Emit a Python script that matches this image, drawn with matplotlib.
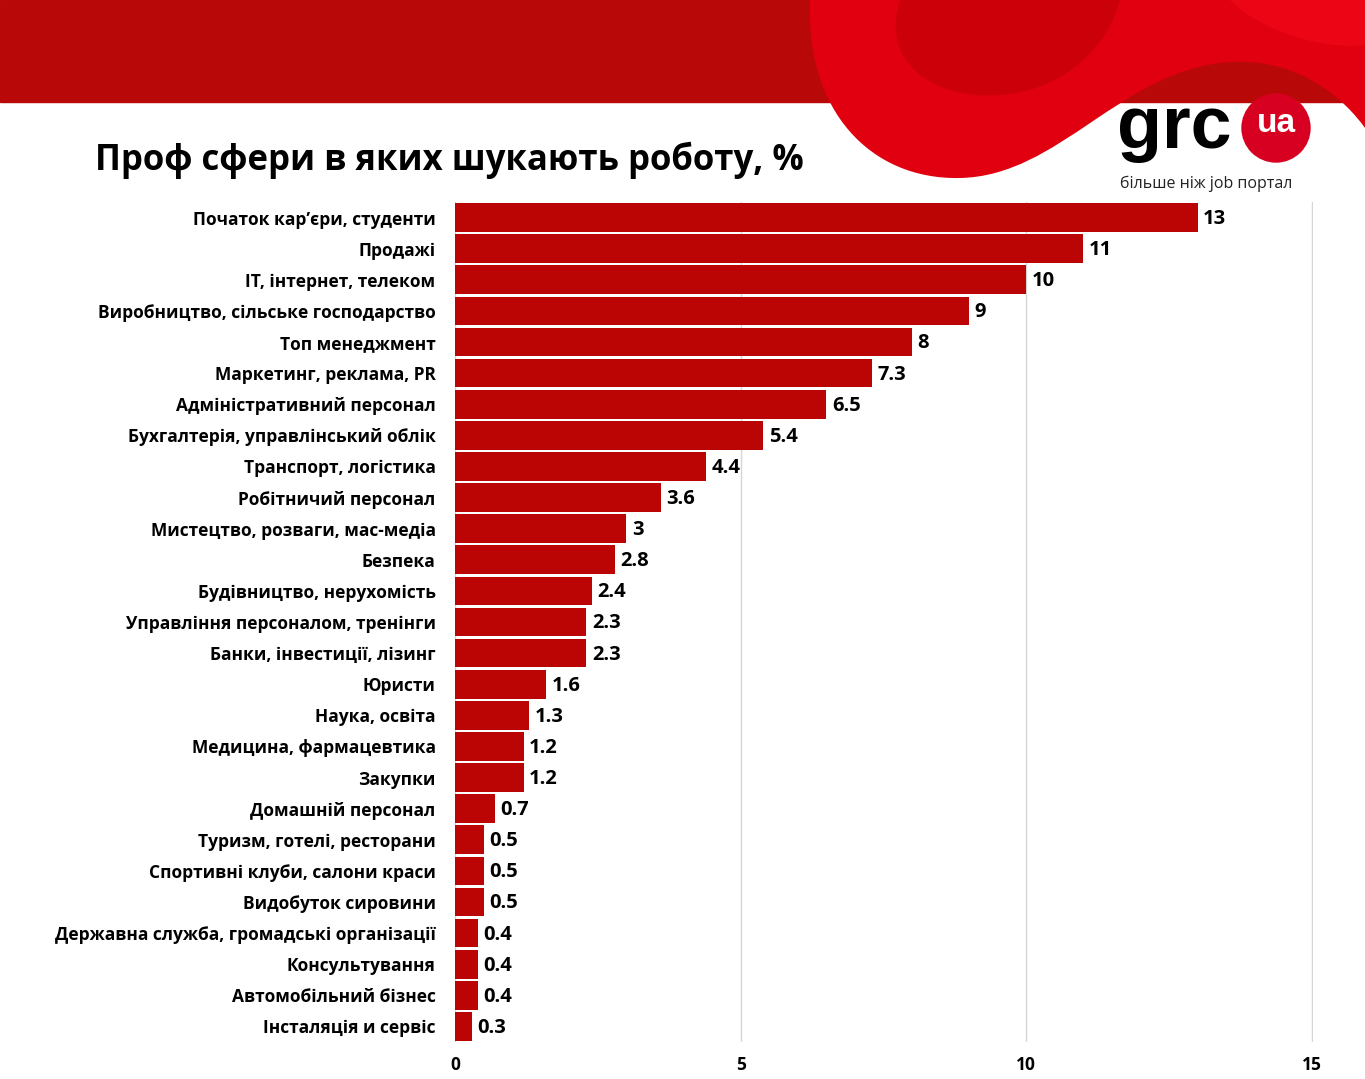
import matplotlib
matplotlib.use("Agg")
import matplotlib.pyplot as plt
from matplotlib.patches import Rectangle, PathPatch, Ellipse
from matplotlib.path import Path

plt.rcParams['font.family'] = ['Open Sans', 'DejaVu Sans']

# --- Datos ---
categorias = [
    "Початок кар’єри, студенти",
    "Продажі",
    "IT, інтернет, телеком",
    "Виробництво, сільське господарство",
    "Топ менеджмент",
    "Маркетинг, реклама, PR",
    "Адміністративний персонал",
    "Бухгалтерія, управлінський облік",
    "Транспорт, логістика",
    "Робітничий персонал",
    "Мистецтво, розваги, мас-медіа",
    "Безпека",
    "Будівництво, нерухомість",
    "Управління персоналом, тренінги",
    "Банки, інвестиції, лізинг",
    "Юристи",
    "Наука, освіта",
    "Медицина, фармацевтика",
    "Закупки",
    "Домашній персонал",
    "Туризм, готелі, ресторани",
    "Спортивні клуби, салони краси",
    "Видобуток сировини",
    "Державна служба, громадські організації",
    "Консультування",
    "Автомобільний бізнес",
    "Інсталяція и сервіс",
]
valores = [13, 11, 10, 9, 8, 7.3, 6.5, 5.4, 4.4, 3.6, 3, 2.8, 2.4, 2.3, 2.3,
           1.6, 1.3, 1.2, 1.2, 0.7, 0.5, 0.5, 0.5, 0.4, 0.4, 0.4, 0.3]
etiquetas = ["13", "11", "10", "9", "8", "7.3", "6.5", "5.4", "4.4", "3.6", "3",
             "2.8", "2.4", "2.3", "2.3", "1.6", "1.3", "1.2", "1.2", "0.7", "0.5",
             "0.5", "0.5", "0.4", "0.4", "0.4", "0.3"]
ticks_x = [0, 5, 10, 15]

rojo_barra = "#bb0505"

fig = plt.figure(figsize=(13.65, 10.79), dpi=100)
W, H = 1365, 1079

def fx(px):
    return px / W

def fy(py):
    return 1 - py / H

# --- Cabecera ---
fig.patches.append(Rectangle((0, fy(102)), 1, 102 / H, transform=fig.transFigure,
                             color="#b90808", zorder=0))
verts = [
    (fx(810), fy(0)),
    (fx(805), fy(110)), (fx(870), fy(180)), (fx(960), fy(178)),
    (fx(1060), fy(176)), (fx(1120), fy(70)), (fx(1230), fy(62)),
    (fx(1300), fy(58)), (fx(1345), fy(100)), (fx(1365), fy(128)),
    (fx(1365), fy(0)),
    (fx(810), fy(0)),
]
codes = [Path.MOVETO, Path.CURVE4, Path.CURVE4, Path.CURVE4,
         Path.CURVE4, Path.CURVE4, Path.CURVE4,
         Path.CURVE4, Path.CURVE4, Path.CURVE4,
         Path.LINETO, Path.CLOSEPOLY]
fig.patches.append(PathPatch(Path(verts, codes), transform=fig.transFigure,
                             facecolor="#e0000f", edgecolor="none", zorder=1))
# sombras internas (suaves)
verts2 = [(fx(900), fy(0)), (fx(880), fy(60)), (fx(930), fy(100)), (fx(1000), fy(95)),
          (fx(1070), fy(90)), (fx(1110), fy(40)), (fx(1120), fy(0)), (fx(900), fy(0))]
codes2 = [Path.MOVETO, Path.CURVE4, Path.CURVE4, Path.CURVE4,
          Path.CURVE4, Path.CURVE4, Path.CURVE4, Path.CLOSEPOLY]
fig.patches.append(PathPatch(Path(verts2, codes2), transform=fig.transFigure,
                             facecolor="#a80000", edgecolor="none", alpha=0.35, zorder=2))
verts3 = [(fx(1230), fy(0)), (fx(1260), fy(30)), (fx(1320), fy(50)), (fx(1365), fy(45)),
          (fx(1365), fy(0)), (fx(1230), fy(0))]
codes3 = [Path.MOVETO, Path.CURVE4, Path.CURVE4, Path.CURVE4,
          Path.LINETO, Path.CLOSEPOLY]
fig.patches.append(PathPatch(Path(verts3, codes3), transform=fig.transFigure,
                             facecolor="#ff1020", edgecolor="none", alpha=0.4, zorder=2))

# Logo
fig.text(fx(1117), fy(128), "grc", fontsize=53, fontweight="bold", color="black",
         family="Liberation Sans", va="center", ha="left")
fig.patches.append(Ellipse((fx(1276), fy(128)), 68 / W, 68 / H, transform=fig.transFigure,
                           color="#d80020", zorder=3))
fig.text(fx(1276), fy(124), "ua", fontsize=24, fontweight="bold", color="white",
         family="Liberation Sans", va="center", ha="center", zorder=4)
fig.text(fx(1120), fy(184), "більше ніж job портал", fontsize=11.5, color="#222222",
         va="center", ha="left")

# Título
fig.text(fx(95), fy(160), "Проф сфери в яких шукають роботу, %", fontsize=25,
         fontweight="bold", color="black", va="center", ha="left")

# --- Gráfica ---
ax = fig.add_axes([fx(455), fy(1042), fx(1313) - fx(455), (1042 - 202) / H])
y = list(range(len(categorias)))
ax.barh(y, valores, height=0.92, color=rojo_barra, zorder=2)
ax.set_ylim(len(categorias) - 0.5, -0.5)
ax.set_xlim(0, 15.02)
ax.set_yticks(y)
ax.set_yticklabels(categorias, fontsize=12.5, fontweight="bold")
ax.set_xticks(ticks_x)
ax.set_xticklabels([str(t) for t in ticks_x], fontsize=12.5, fontweight="bold")
ax.tick_params(axis="both", length=0)
ax.tick_params(axis="y", pad=14)
ax.tick_params(axis="x", pad=10)
ax.grid(axis="x", color="#d6d6d6", linewidth=1, zorder=0)
for s in ax.spines.values():
    s.set_visible(False)

for yi, v, t in zip(y, valores, etiquetas):
    ax.annotate(t, (v, yi), xytext=(4, -1), textcoords="offset points",
                va="center", ha="left", fontsize=14.5, fontweight="bold")

fig.savefig("out.png", dpi=100)
